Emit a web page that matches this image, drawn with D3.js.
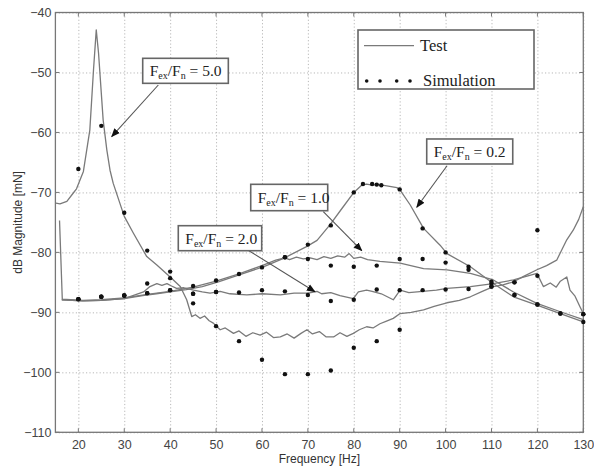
<!DOCTYPE html>
<html><head><meta charset="utf-8">
<script src="https://cdn.jsdelivr.net/npm/d3@7"></script>
<style>body{margin:0;background:#fff}svg{display:block}</style>
</head><body>
<svg id="c" width="594" height="468"></svg>
<script>
// ---- data ----
const xTicks = [20,30,40,50,60,70,80,90,100,110,120,130];
const yTicks = [-110,-100,-90,-80,-70,-60,-50,-40];

// Test curves
const test02F = [16.4,21,25,30,34,37,40,43.5,47,50.5,55.2,60.3,64.7,69.8,72,74.8,77.5,79.9,81.7,82.8,84,85.5,87.2,89.4,90.1,92.3,95.2,98.8,100.3,105.4,110.4,114.8,119.9,125,130];
const test02V = [-87.9,-88.1,-88.0,-87.7,-87.2,-86.9,-86.6,-86.2,-85.7,-84.9,-83.7,-82.4,-81.0,-79.0,-78.0,-75.4,-72.6,-70.1,-68.8,-68.6,-68.8,-68.7,-68.9,-69.2,-69.6,-72.1,-76.0,-78.8,-80.2,-82.4,-85.2,-87.4,-88.8,-90.2,-91.6];

const test10F = [15.9,16.5,21,25,30,35,40,45,50,55,60,63,65,66,67.5,69,70.5,72,73.5,75,76.5,78,79,80,81.5,83,85.7,90.1,95.2,100.3,105.4,110.4,114.8,119.9,125,130];
const test10V = [-74.7,-87.8,-88.0,-87.9,-87.6,-87.0,-86.5,-85.8,-84.8,-83.6,-82.2,-81.3,-80.9,-81.2,-80.8,-81.1,-80.9,-81.2,-80.7,-81.0,-80.6,-80.8,-80.2,-81.0,-80.8,-81.2,-81.5,-81.8,-82.7,-82.9,-83.5,-84.6,-86.6,-88.5,-89.9,-91.2];

const test20F = [16.4,21,25,30,34.2,35.6,37.1,38.2,39.3,40.3,41.4,43,45.1,47,48.7,50.9,53,56.7,60,64,67,70.1,72,73,75,77,79.9,81,82.8,84,86,88.6,90.1,92,95,98,100.3,105.4,110.4,114.8,119.9,121.3,122.8,124.1,125,126.4,127.1,128.2,129.3,130];
const test20V = [-87.9,-88.1,-88.0,-87.7,-86.6,-85.7,-85.2,-85.5,-85.2,-85.6,-86.0,-85.9,-86.3,-86.6,-86.8,-86.5,-86.9,-87.1,-86.9,-87.1,-86.8,-86.8,-86.5,-86.9,-86.7,-87.2,-87.7,-86.6,-86.3,-86.5,-86.9,-87.9,-86.3,-86.7,-86.5,-86.3,-86.0,-85.7,-85.2,-84.6,-83.5,-85.7,-85.1,-85.8,-84.8,-84.1,-86.3,-87.3,-89.1,-90.2];

const test50F = [15.1,16,17.5,18.9,19.6,21.1,22.5,23.3,23.9,24.4,25.4,26.2,26.9,27.6,30,32,34.9,37.1,40,42.2,43.6,44.7,45.5,46.5,47.5,48.5,49.4,50.9,52,53.8,55,56.5,58,59.6,61,62.5,64,65.5,67,68.5,69.8,71,72.5,74,75.6,77,78.5,79.9,81.2,82.8,84.2,85.7,87,88.6,90.1,92.5,95.2,97.5,100.3,103,105.4,108,110.4,112.5,114.8,117,119.9,122,124.2,125.3,126.4,127.8,129,130];
const test50V = [-71.8,-71.9,-71.5,-70.1,-69.4,-66.5,-59.6,-49.6,-42.9,-46.8,-57.9,-62.9,-66.3,-68.5,-74.0,-76.8,-80.7,-82.1,-84.1,-85.7,-87.9,-90.7,-90.4,-91.0,-90.6,-91.4,-91.8,-92.9,-92.6,-93.5,-93.1,-94.0,-93.4,-93.8,-93.3,-94.2,-94.1,-93.6,-94.3,-93.5,-92.9,-93.6,-93.2,-94.1,-94.1,-93.4,-94.0,-93.5,-92.9,-92.4,-92.6,-91.9,-91.5,-91.0,-90.2,-90.0,-89.6,-89.0,-88.4,-88.0,-87.4,-86.5,-85.7,-85.4,-84.9,-84.0,-82.9,-82.2,-81.3,-79.6,-77.9,-76.3,-74.5,-72.4];

// Simulation points
const sim02F = [20,25,30,35,40,45,50,55,60,65,70,75,80,82,84,85,86,90,95,100,105,110,115,120,125,130];
const sim02V = [-87.8,-87.4,-87.2,-86.8,-86.3,-85.6,-84.7,-83.6,-82.5,-80.8,-78.7,-75.5,-70.0,-68.6,-68.6,-68.7,-68.8,-69.5,-76.0,-80.0,-82.4,-85.2,-87.1,-88.7,-90.2,-91.6];

const sim10F = [20,25,30,35,40,45,50,65,70,75,80,85,90,95,100,105,110,115,120,125,130];
const sim10V = [-87.8,-87.4,-87.2,-85.2,-84.3,-86.9,-86.6,-80.8,-81.1,-82.2,-82.4,-82.2,-81.1,-81.1,-81.7,-82.9,-85.7,-87.1,-88.7,-90.2,-90.3];

const sim20F = [20,25,30,35,40,45,50,55,60,65,70,75,80,85,90,95,100,105,110,115,120,130];
const sim20V = [-87.8,-87.4,-87.2,-86.8,-86.3,-86.9,-86.6,-86.7,-86.3,-86.5,-87.1,-88.1,-87.9,-86.2,-86.3,-86.3,-86.2,-86.1,-84.9,-85.0,-83.9,-90.3];

const sim50F = [20,25,30,35,40,45,50,55,60,65,70,75,80,85,90,110,115,120];
const sim50V = [-66.1,-58.9,-73.4,-79.7,-83.2,-88.5,-92.3,-94.8,-97.9,-100.3,-100.3,-99.7,-95.9,-94.8,-92.9,-85.7,-85.0,-76.3];

// Annotations (data units): box corners, text, arrow from/to
const annLabels = ["5.0","1.0","2.0","0.2"];
const annBoxes  = [[34.02,-47.64,52.67,-51.81],[57.55,-68.65,74.32,-73.05],[41.77,-75.55,59.94,-79.72],[95.89,-61.09,114.63,-65.26]];
const annArrows = [[37.42,-52.09,27.26,-60.71],[73.36,-73.22,81.74,-79.72],[56.30,-79.32,71.55,-86.56],[100.32,-65.55,93.72,-72.48]];

const legendLabels = ["Test","Simulation"];

// ---- drawing ----
const L=55.4, R=583.3, T=12.5, B=432.3;
const svg = d3.select("#c");
const x = d3.scaleLinear().domain([15,130]).range([L,R]);
const y = d3.scaleLinear().domain([-110,-40]).range([B,T]);

// grid
const gx = svg.append("g").attr("transform",`translate(0,${B})`)
  .call(d3.axisBottom(x).tickValues(xTicks).tickSize(-(B-T)).tickFormat(""));
gx.select(".domain").remove();
gx.selectAll("line").attr("stroke","#b8b8b8").attr("stroke-dasharray","1.2,2.2");
const gy = svg.append("g").attr("transform",`translate(${L},0)`)
  .call(d3.axisLeft(y).tickValues(yTicks).tickSize(-(R-L)).tickFormat(""));
gy.select(".domain").remove();
gy.selectAll("line").attr("stroke","#b8b8b8").attr("stroke-dasharray","1.2,2.2");

// axes labels
const sans = "Arial, 'Liberation Sans', sans-serif";
const ax = svg.append("g").attr("transform",`translate(0,${B})`)
  .call(d3.axisBottom(x).tickValues(xTicks).tickSize(0).tickPadding(8));
ax.select(".domain").remove();
ax.selectAll("text").attr("font-family",sans).attr("font-size",12.5).attr("fill","#444");
const ay = svg.append("g").attr("transform",`translate(${L},0)`)
  .call(d3.axisLeft(y).tickValues(yTicks).tickSize(0).tickPadding(4));
ay.select(".domain").remove();
ay.selectAll("text").attr("font-family",sans).attr("font-size",12.5).attr("fill","#444");

// inward ticks on all sides
const tk = svg.append("g").attr("stroke","#777").attr("stroke-width",1);
xTicks.forEach(v=>{tk.append("line").attr("x1",x(v)).attr("x2",x(v)).attr("y1",B).attr("y2",B-4);
  tk.append("line").attr("x1",x(v)).attr("x2",x(v)).attr("y1",T).attr("y2",T+4);});
yTicks.forEach(v=>{tk.append("line").attr("y1",y(v)).attr("y2",y(v)).attr("x1",L).attr("x2",L+4);
  tk.append("line").attr("y1",y(v)).attr("y2",y(v)).attr("x1",R).attr("x2",R-4);});

// frame
svg.append("rect").attr("x",L).attr("y",T).attr("width",R-L).attr("height",B-T)
  .attr("fill","none").attr("stroke","#777").attr("stroke-width",1.3);

// axis titles
svg.append("text").attr("x",(L+R)/2).attr("y",463).attr("text-anchor","middle")
  .attr("font-family",sans).attr("font-size",12).attr("fill","#333").text("Frequency [Hz]");
svg.append("text").attr("transform",`translate(22,${(T+B)/2}) rotate(-90)`).attr("text-anchor","middle")
  .attr("font-family",sans).attr("font-size",12).attr("fill","#333").text("dB Magnitude [mN]");

// test lines
const line = d3.line().x(d=>x(d[0])).y(d=>y(d[1]));
const tests = [[test02F,test02V],[test10F,test10V],[test20F,test20V],[test50F,test50V]];
const plot = svg.append("g");
tests.forEach(([f,v])=>{
  plot.append("path").datum(f.map((d,i)=>[d,v[i]])).attr("d",line)
    .attr("fill","none").attr("stroke","#7a7a7a").attr("stroke-width",1.3).attr("stroke-linejoin","round");
});
// simulation dots
const sims = [[sim02F,sim02V],[sim10F,sim10V],[sim20F,sim20V],[sim50F,sim50V]];
sims.forEach(([f,v])=>{
  plot.selectAll(null).data(f.map((d,i)=>[d,v[i]])).enter().append("circle")
    .attr("cx",d=>x(d[0])).attr("cy",d=>y(d[1])).attr("r",2.2).attr("fill","#111");
});

// arrow marker
svg.append("defs").append("marker").attr("id","ah").attr("viewBox","0 0 10 10")
  .attr("refX",9).attr("refY",5).attr("markerWidth",9).attr("markerHeight",9).attr("orient","auto")
  .attr("markerUnits","userSpaceOnUse")
  .append("path").attr("d","M0,1 L10,5 L0,9 Z").attr("fill","#111");

const serif = "'Times New Roman', 'Liberation Serif', 'DejaVu Serif', serif";
annLabels.forEach((lab,i)=>{
  const b = annBoxes[i], a = annArrows[i];
  svg.append("line").attr("x1",x(a[0])).attr("y1",y(a[1])).attr("x2",x(a[2])).attr("y2",y(a[3]))
    .attr("stroke","#555").attr("stroke-width",1.1).attr("marker-end","url(#ah)");
  svg.append("rect").attr("x",x(b[0])).attr("y",y(b[1])).attr("width",x(b[2])-x(b[0])).attr("height",y(b[3])-y(b[1]))
    .attr("fill","#fff").attr("stroke","#666").attr("stroke-width",1.6);
  const t = svg.append("text").attr("x",x(b[0])+7).attr("y",(y(b[1])+y(b[3]))/2+5.5)
    .attr("font-family",serif).attr("font-size",15.5).attr("fill","#222");
  t.append("tspan").text("F");
  t.append("tspan").attr("font-size",10).attr("dy",3).text("ex");
  t.append("tspan").attr("dy",-3).text("/F");
  t.append("tspan").attr("font-size",10).attr("dy",3).text("n");
  t.append("tspan").attr("dy",-3).text(" = "+lab);
});

// legend
const lg = svg.append("g").attr("transform","translate(358,30)");
lg.append("rect").attr("width",176).attr("height",59).attr("fill","#fff").attr("stroke","#666").attr("stroke-width",1.6);
lg.append("line").attr("x1",6).attr("x2",56).attr("y1",15.7).attr("y2",15.7).attr("stroke","#7a7a7a").attr("stroke-width",1.2);
lg.selectAll(null).data([8.7,22,38.7,52]).enter().append("circle")
  .attr("cx",d=>d).attr("cy",51).attr("r",1.8).attr("fill","#111");
lg.append("text").attr("x",62).attr("y",20.5).attr("font-family",serif).attr("font-size",16.5).attr("fill","#222").text(legendLabels[0]);
lg.append("text").attr("x",65).attr("y",55.5).attr("font-family",serif).attr("font-size",16.5).attr("fill","#222").text(legendLabels[1]);
</script>
</body></html>
